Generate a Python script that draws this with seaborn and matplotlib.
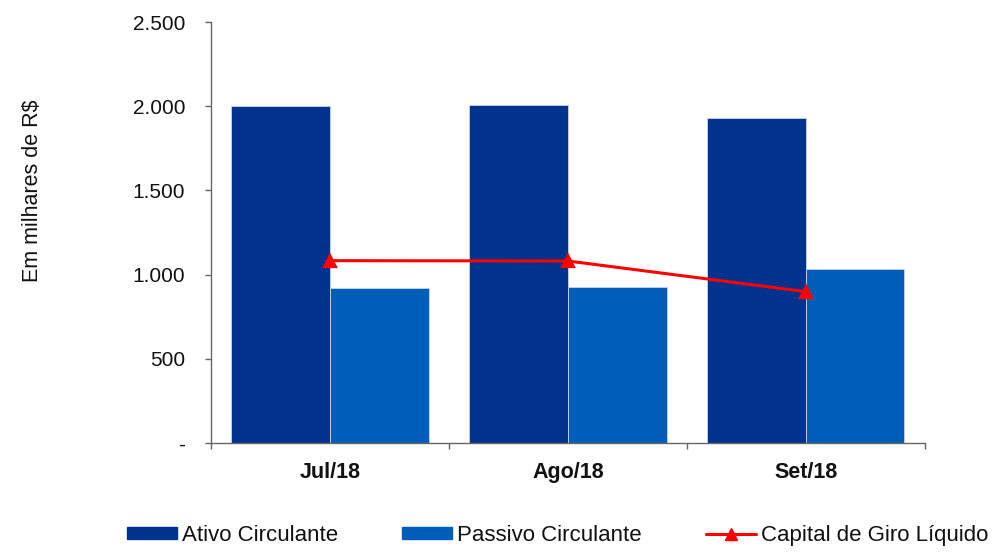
import matplotlib
matplotlib.use("Agg")
import matplotlib.pyplot as plt
import matplotlib.ticker as mticker
from matplotlib.patches import Patch
from matplotlib.lines import Line2D
import seaborn as sns
import pandas as pd

categories = ["Jul/18", "Ago/18", "Set/18"]
ativo = [2001, 2007, 1930]
passivo = [918, 926, 1031]
capital = [1083, 1081, 899]
series_names = ["Ativo Circulante", "Passivo Circulante", "Capital de Giro Líquido"]
y_ticks = [0, 500, 1000, 1500, 2000, 2500]

sns.set_theme(style="white")
plt.rcParams['font.family'] = ['Liberation Sans', 'DejaVu Sans']

df = pd.DataFrame({
    "mes": categories * 2,
    "valor": ativo + passivo,
    "serie": [series_names[0]] * 3 + [series_names[1]] * 3,
})
cap_df = pd.DataFrame({"mes": categories, "valor": capital})

col_ativo = "#00338D"
col_passivo = "#005EB8"
col_cap = "#FF0000"

fig = plt.figure(figsize=(10.05, 5.52), dpi=100)
ax = fig.add_axes([0.21, 0.1975, 0.71, 0.7625])

sns.barplot(data=df, x="mes", y="valor", hue="serie", order=categories,
            hue_order=series_names[:2], palette=[col_ativo, col_passivo],
            saturation=1, width=0.83, gap=0, edgecolor="#c8d4ea", linewidth=0.6,
            legend=False, ax=ax, errorbar=None)
sns.pointplot(data=cap_df, x="mes", y="valor", order=categories, color=col_cap,
              markers="^", markersize=8, linewidth=2.2, ax=ax, errorbar=None)

ax.set_xlim(-0.5, 2.5)
ax.set_ylim(0, 2500)
ax.set_yticks(y_ticks)
ax.yaxis.set_major_formatter(mticker.FuncFormatter(
    lambda v, p: "-" if v == 0 else f"{int(v):,}".replace(",", ".")))
ax.set_xlabel("")
ax.set_ylabel("Em milhares de R$", fontsize=15.5, color="#111111")
ax.yaxis.set_label_coords(-0.236, 0.60)

for s in ["top", "right"]:
    ax.spines[s].set_visible(False)
for s in ["left", "bottom"]:
    ax.spines[s].set_color("#666666")
    ax.spines[s].set_linewidth(1.0)

ax.tick_params(axis="y", which="major", left=True, length=4.5, width=1,
               color="#666666", labelsize=15, labelcolor="#111111", pad=14)
ax.tick_params(axis="x", which="major", bottom=False, labelsize=15.5, pad=8)
ax.set_xticks([-0.5, 0.5, 1.5, 2.5], minor=True)
ax.tick_params(axis="x", which="minor", bottom=True, length=4.5, width=1, color="#666666")
for lbl in ax.get_xticklabels():
    lbl.set_fontweight("bold")
    lbl.set_color("#111111")

h3 = Line2D([0, 0.5, 1], [0, 0, 0], color=col_cap, lw=2.2, marker="^", markersize=8, markevery=[1])
handles = [
    Patch(facecolor=col_ativo, edgecolor=col_ativo),
    Patch(facecolor=col_passivo, edgecolor=col_passivo),
    h3,
]
leg = fig.legend(handles, series_names, loc="center left", bbox_to_anchor=(0.126, 0.03),
                 ncol=3, frameon=False, fontsize=16, handlelength=2.25,
                 handleheight=0.5, handletextpad=0.22, columnspacing=2.9,
                 borderaxespad=0, borderpad=0)
for t in leg.get_texts():
    t.set_color("#111111")

fig.savefig("out.png", dpi=100)
